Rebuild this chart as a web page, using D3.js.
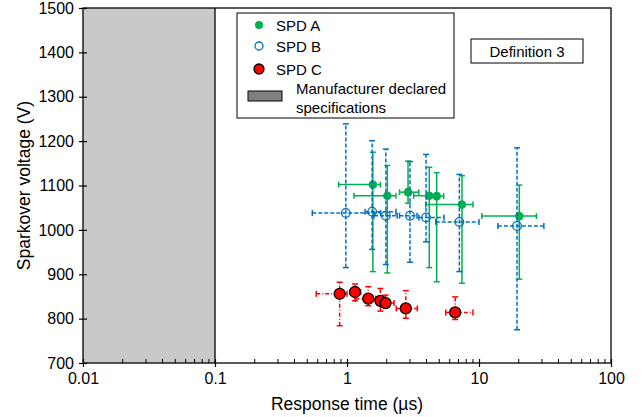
<!DOCTYPE html>
<html>
<head>
<meta charset="utf-8">
<script src="https://cdn.jsdelivr.net/npm/d3@7"></script>
<style>
  body { margin: 0; background: #fff; }
  svg { font-family: "Liberation Sans", Arial, sans-serif; }
</style>
</head>
<body>
<div id="chart"></div>
<script>
// Data (x in µs, y in V, with low/high bounds)
const seriesNames = ['SPD A', 'SPD B', 'SPD C'];
const xTicks = [0.01, 0.1, 1, 10, 100];
const yTicks = [700, 800, 900, 1000, 1100, 1200, 1300, 1400, 1500];
const specRange = [0.01, 0.1];

// [x, xLo, xHi, y, yLo, yHi]
const spdA = [
  [1.57, 0.865, 1.79, 1102, 906, 1175],
  [2.02, 1.13, 2.35, 1077, 903, 1145],
  [2.9, 2.5, 3.5, 1085, 1060, 1155],
  [4.2, 3.2, 5.0, 1077, 915, 1141],
  [4.78, 4.0, 5.4, 1076, 883, 1129],
  [7.43, 3.95, 9.0, 1057, 880, 1122],
  [20.2, 10.5, 27.2, 1031, 889, 1101]
];
const spdB = [
  [0.98, 0.546, 1.8, 1038, 915, 1239],
  [1.55, 1.37, 2.35, 1041, 956, 1201],
  [1.97, 1.6, 2.4, 1032, 922, 1182],
  [3.0, 2.5, 3.39, 1032, 927, 1154],
  [3.97, 3.5, 5.43, 1028, 973, 1170],
  [7.1, 4.7, 10.0, 1018, 906, 1125],
  [19.4, 13.9, 31.0, 1009, 775, 1185]
];
const spdC = [
  [0.88, 0.585, 1.0, 856, 784, 882],
  [1.15, 1.05, 1.27, 860, 840, 878],
  [1.45, 1.16, 1.65, 845, 829, 872],
  [1.79, 1.69, 1.95, 840, 817, 868],
  [1.96, 1.85, 2.27, 835, 826, 853],
  [2.79, 2.36, 3.41, 823, 801, 863],
  [6.6, 5.6, 9.0, 814, 798, 849]
];

const W = 644, H = 417;
const m = { left: 83, right: 33, top: 8, bottom: 54 };

const svg = d3.select('#chart').append('svg').attr('width', W).attr('height', H);

const x = d3.scaleLog().domain([0.01, 100]).range([m.left, W - m.right]);
const y = d3.scaleLinear().domain([700, 1500]).range([H - m.bottom, m.top]);

// manufacturer spec area
svg.append('rect')
  .attr('x', x(specRange[0])).attr('y', m.top)
  .attr('width', x(specRange[1]) - x(specRange[0])).attr('height', y(700) - m.top)
  .attr('fill', '#c9c9c9');
svg.append('line')
  .attr('x1', x(specRange[1])).attr('x2', x(specRange[1]))
  .attr('y1', m.top).attr('y2', y(700))
  .attr('stroke', '#000').attr('stroke-width', 1.3);

// frame
svg.append('rect')
  .attr('x', m.left).attr('y', m.top)
  .attr('width', W - m.right - m.left).attr('height', H - m.bottom - m.top)
  .attr('fill', 'none').attr('stroke', '#000').attr('stroke-width', 1.3);

// x axis: major ticks crossing, minor ticks inside
const minor = [];
for (let d = 0.01; d < 100; d *= 10) for (let k = 2; k < 10; k++) minor.push(+(d * k).toPrecision(3));
svg.append('g').selectAll('line').data(minor).enter().append('line')
  .attr('x1', d => x(d)).attr('x2', d => x(d))
  .attr('y1', y(700)).attr('y2', y(700) - 4)
  .attr('stroke', '#000');
const xAxis = svg.append('g').attr('transform', `translate(0,${y(700)})`)
  .call(d3.axisBottom(x).tickValues(xTicks).tickFormat(d => String(d)).tickSize(4).tickPadding(6));
xAxis.select('.domain').remove();
xAxis.selectAll('.tick line').attr('y1', -4).attr('stroke-width', 1.2);
xAxis.selectAll('text').attr('font-size', 16).attr('fill', '#000');

const yAxis = svg.append('g').attr('transform', `translate(${m.left},0)`)
  .call(d3.axisLeft(y).tickValues(yTicks).tickFormat(d => String(d)).tickSize(4).tickPadding(5));
yAxis.select('.domain').remove();
yAxis.selectAll('.tick line').attr('x1', 4).attr('stroke-width', 1.2);
yAxis.selectAll('text').attr('font-size', 16).attr('fill', '#000');

svg.append('text').attr('x', x(1)).attr('y', 410)
  .attr('text-anchor', 'middle').attr('font-size', 17.5).text('Response time (µs)');
svg.append('text').attr('transform', `translate(30,${(m.top + y(700)) / 2}) rotate(-90)`)
  .attr('text-anchor', 'middle').attr('font-size', 17.5).text('Sparkover voltage (V)');

// error bars + markers
const styles = [
  { data: spdA, color: '#00b050', dash: null, fill: '#00b050', stroke: 'none', r: 4.3 },
  { data: spdB, color: '#0070c0', dash: '4,2', fill: 'none', stroke: '#0070c0', r: 4.3 },
  { data: spdC, color: '#ff0000', dash: '4,2,1,2', fill: '#ff0000', stroke: '#000', r: 5.5 }
];
const cap = 3;
styles.forEach(s => {
  const g = svg.append('g');
  s.data.forEach(p => {
    const [vx, xl, xh, vy, yl, yh] = p;
    const segs = [
      [x(xl), y(vy), x(xh), y(vy)],
      [x(vx), y(yl), x(vx), y(yh)],
      [x(xl), y(vy) - cap, x(xl), y(vy) + cap],
      [x(xh), y(vy) - cap, x(xh), y(vy) + cap],
      [x(vx) - cap, y(yl), x(vx) + cap, y(yl)],
      [x(vx) - cap, y(yh), x(vx) + cap, y(yh)]
    ];
    g.selectAll(null).data(segs).enter().append('line')
      .attr('x1', d => d[0]).attr('y1', d => d[1]).attr('x2', d => d[2]).attr('y2', d => d[3])
      .attr('stroke', s.color).attr('stroke-width', 1.5)
      .attr('stroke-dasharray', (d, i) => i < 2 ? s.dash : null);
  });
  g.selectAll('circle').data(s.data).enter().append('circle')
    .attr('cx', d => x(d[0])).attr('cy', d => y(d[3])).attr('r', s.r)
    .attr('fill', s.fill).attr('stroke', s.stroke).attr('stroke-width', 1.3);
});

// legend
const lg = svg.append('g');
lg.append('rect').attr('x', 237).attr('y', 13).attr('width', 217).attr('height', 105)
  .attr('fill', '#fff').attr('stroke', '#000').attr('stroke-width', 1);
const legY = [25, 46, 69];
seriesNames.forEach((n, i) => {
  const s = styles[i];
  lg.append('circle').attr('cx', 259).attr('cy', legY[i]).attr('r', i === 2 ? 5 : 4)
    .attr('fill', s.fill).attr('stroke', s.stroke).attr('stroke-width', 1.3);
  lg.append('text').attr('x', 276).attr('y', legY[i] + 5.5).attr('font-size', 15).text(n);
});
lg.append('rect').attr('x', 248).attr('y', 91).attr('width', 34).attr('height', 10)
  .attr('fill', '#808080').attr('stroke', '#000').attr('stroke-width', 1);
lg.append('text').attr('x', 296).attr('y', 94).attr('font-size', 15).text('Manufacturer declared');
lg.append('text').attr('x', 296).attr('y', 113).attr('font-size', 15).text('specifications');

// definition label
svg.append('rect').attr('x', 471).attr('y', 39).attr('width', 112).attr('height', 24)
  .attr('fill', '#fff').attr('stroke', '#000').attr('stroke-width', 1);
svg.append('text').attr('x', 527).attr('y', 56.5).attr('text-anchor', 'middle')
  .attr('font-size', 15).text('Definition 3');
</script>
</body>
</html>
